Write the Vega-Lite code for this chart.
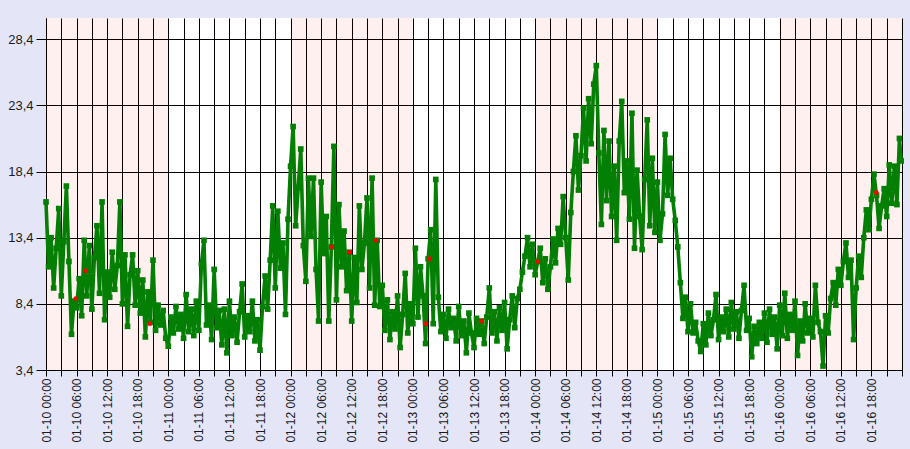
{
  "$schema": "https://vega.github.io/schema/vega-lite/v6.json",
  "width": 856,
  "height": 352,
  "autosize": {"type": "none"},
  "padding": {"left": 46, "top": 18, "right": 8, "bottom": 79},
  "background": "#E4E6F8",
  "config": {"font": "Liberation Sans", "view": {"fill": "white", "stroke": null}},
  "datasets": {
    "bands": [
      {"s": "2024-01-10T00:00", "e": "2024-01-11T00:00"},
      {"s": "2024-01-12T00:00", "e": "2024-01-13T00:00"},
      {"s": "2024-01-14T00:00", "e": "2024-01-15T00:00"},
      {"s": "2024-01-16T00:00", "e": "2024-01-17T00:00"}
    ],
    "red": [
      {"t": "2024-01-10T05:50", "v": 8.8},
      {"t": "2024-01-10T07:47", "v": 10.9},
      {"t": "2024-01-10T20:25", "v": 6.9},
      {"t": "2024-01-12T08:05", "v": 12.7},
      {"t": "2024-01-12T11:33", "v": 12.3},
      {"t": "2024-01-12T16:47", "v": 13.2},
      {"t": "2024-01-13T02:36", "v": 6.9},
      {"t": "2024-01-13T03:20", "v": 11.8},
      {"t": "2024-01-13T13:32", "v": 7.1},
      {"t": "2024-01-14T00:32", "v": 11.6},
      {"t": "2024-01-16T18:58", "v": 16.8}
    ],
    "series": [
      {"t":"2024-01-10T00:00","v":16.1},{"t":"2024-01-10T00:30","v":11.2},{"t":"2024-01-10T01:00","v":13.4},{"t":"2024-01-10T01:30","v":9.6},{"t":"2024-01-10T02:00","v":12.6},{"t":"2024-01-10T02:30","v":15.6},{"t":"2024-01-10T03:00","v":9.0},{"t":"2024-01-10T03:30","v":13.1},{"t":"2024-01-10T04:00","v":17.3},{"t":"2024-01-10T04:30","v":11.6},{"t":"2024-01-10T05:00","v":6.1},{"t":"2024-01-10T05:30","v":8.6},{"t":"2024-01-10T06:00","v":8.1},{"t":"2024-01-10T06:30","v":10.3},{"t":"2024-01-10T07:00","v":7.5},{"t":"2024-01-10T07:30","v":13.2},{"t":"2024-01-10T08:00","v":9.0},{"t":"2024-01-10T08:30","v":12.8},{"t":"2024-01-10T09:00","v":8.0},{"t":"2024-01-10T09:30","v":11.9},{"t":"2024-01-10T10:00","v":14.3},{"t":"2024-01-10T10:30","v":9.2},{"t":"2024-01-10T11:00","v":16.1},{"t":"2024-01-10T11:30","v":7.2},{"t":"2024-01-10T12:00","v":10.8},{"t":"2024-01-10T12:30","v":8.9},{"t":"2024-01-10T13:00","v":12.3},{"t":"2024-01-10T13:30","v":9.5},{"t":"2024-01-10T14:00","v":11.3},{"t":"2024-01-10T14:30","v":16.1},{"t":"2024-01-10T15:00","v":8.4},{"t":"2024-01-10T15:30","v":12.1},{"t":"2024-01-10T16:00","v":6.7},{"t":"2024-01-10T16:30","v":10.6},{"t":"2024-01-10T17:00","v":12.1},{"t":"2024-01-10T17:30","v":8.3},{"t":"2024-01-10T18:00","v":10.9},{"t":"2024-01-10T18:30","v":7.7},{"t":"2024-01-10T19:00","v":10.2},{"t":"2024-01-10T19:30","v":5.9},{"t":"2024-01-10T20:00","v":9.3},{"t":"2024-01-10T20:30","v":7.0},{"t":"2024-01-10T21:00","v":11.7},{"t":"2024-01-10T21:30","v":6.4},{"t":"2024-01-10T22:00","v":8.3},{"t":"2024-01-10T22:30","v":6.8},{"t":"2024-01-10T23:00","v":7.9},{"t":"2024-01-10T23:30","v":5.8},
      {"t":"2024-01-11T00:00","v":5.2},{"t":"2024-01-11T00:30","v":7.4},{"t":"2024-01-11T01:00","v":6.2},{"t":"2024-01-11T01:30","v":8.2},{"t":"2024-01-11T02:00","v":6.5},{"t":"2024-01-11T02:30","v":7.6},{"t":"2024-01-11T03:00","v":5.8},{"t":"2024-01-11T03:30","v":9.1},{"t":"2024-01-11T04:00","v":6.3},{"t":"2024-01-11T04:30","v":8.0},{"t":"2024-01-11T05:00","v":6.0},{"t":"2024-01-11T05:30","v":8.6},{"t":"2024-01-11T06:00","v":6.4},{"t":"2024-01-11T06:30","v":11.4},{"t":"2024-01-11T07:00","v":13.2},{"t":"2024-01-11T07:30","v":6.8},{"t":"2024-01-11T08:00","v":8.3},{"t":"2024-01-11T08:30","v":5.7},{"t":"2024-01-11T09:00","v":11.0},{"t":"2024-01-11T09:30","v":6.6},{"t":"2024-01-11T10:00","v":7.9},{"t":"2024-01-11T10:30","v":5.3},{"t":"2024-01-11T11:00","v":8.0},{"t":"2024-01-11T11:30","v":4.7},{"t":"2024-01-11T12:00","v":8.6},{"t":"2024-01-11T12:30","v":6.0},{"t":"2024-01-11T13:00","v":7.4},{"t":"2024-01-11T13:30","v":5.5},{"t":"2024-01-11T14:00","v":7.8},{"t":"2024-01-11T14:30","v":9.9},{"t":"2024-01-11T15:00","v":5.9},{"t":"2024-01-11T15:30","v":7.5},{"t":"2024-01-11T16:00","v":6.3},{"t":"2024-01-11T16:30","v":8.6},{"t":"2024-01-11T17:00","v":5.6},{"t":"2024-01-11T17:30","v":7.2},{"t":"2024-01-11T18:00","v":4.9},{"t":"2024-01-11T18:30","v":8.2},{"t":"2024-01-11T19:00","v":10.5},{"t":"2024-01-11T19:30","v":8.0},{"t":"2024-01-11T20:00","v":11.7},{"t":"2024-01-11T20:30","v":15.8},{"t":"2024-01-11T21:00","v":9.6},{"t":"2024-01-11T21:30","v":15.4},{"t":"2024-01-11T22:00","v":11.1},{"t":"2024-01-11T22:30","v":13.0},{"t":"2024-01-11T23:00","v":7.6},{"t":"2024-01-11T23:30","v":14.8},
      {"t":"2024-01-12T00:00","v":18.8},{"t":"2024-01-12T00:30","v":21.8},{"t":"2024-01-12T01:00","v":14.3},{"t":"2024-01-12T01:30","v":17.2},{"t":"2024-01-12T02:00","v":20.1},{"t":"2024-01-12T02:30","v":12.8},{"t":"2024-01-12T03:00","v":10.1},{"t":"2024-01-12T03:30","v":17.9},{"t":"2024-01-12T04:00","v":13.5},{"t":"2024-01-12T04:30","v":17.9},{"t":"2024-01-12T05:00","v":11.0},{"t":"2024-01-12T05:30","v":7.1},{"t":"2024-01-12T06:00","v":17.6},{"t":"2024-01-12T06:30","v":12.2},{"t":"2024-01-12T07:00","v":15.0},{"t":"2024-01-12T07:30","v":7.1},{"t":"2024-01-12T08:00","v":12.7},{"t":"2024-01-12T08:30","v":20.3},{"t":"2024-01-12T09:00","v":8.7},{"t":"2024-01-12T09:30","v":15.9},{"t":"2024-01-12T10:00","v":11.2},{"t":"2024-01-12T10:30","v":13.9},{"t":"2024-01-12T11:00","v":9.4},{"t":"2024-01-12T11:30","v":12.3},{"t":"2024-01-12T12:00","v":7.1},{"t":"2024-01-12T12:30","v":11.9},{"t":"2024-01-12T13:00","v":8.5},{"t":"2024-01-12T13:30","v":15.8},{"t":"2024-01-12T14:00","v":11.0},{"t":"2024-01-12T14:30","v":13.0},{"t":"2024-01-12T15:00","v":16.4},{"t":"2024-01-12T15:30","v":9.6},{"t":"2024-01-12T16:00","v":17.9},{"t":"2024-01-12T16:30","v":8.3},{"t":"2024-01-12T17:00","v":13.2},{"t":"2024-01-12T17:30","v":8.2},{"t":"2024-01-12T18:00","v":9.8},{"t":"2024-01-12T18:30","v":6.4},{"t":"2024-01-12T19:00","v":8.7},{"t":"2024-01-12T19:30","v":5.7},{"t":"2024-01-12T20:00","v":7.8},{"t":"2024-01-12T20:30","v":6.5},{"t":"2024-01-12T21:00","v":9.0},{"t":"2024-01-12T21:30","v":5.1},{"t":"2024-01-12T22:00","v":7.6},{"t":"2024-01-12T22:30","v":10.7},{"t":"2024-01-12T23:00","v":6.2},{"t":"2024-01-12T23:30","v":8.4},
      {"t":"2024-01-13T00:00","v":6.9},{"t":"2024-01-13T00:30","v":12.6},{"t":"2024-01-13T01:00","v":7.4},{"t":"2024-01-13T01:30","v":11.2},{"t":"2024-01-13T02:00","v":9.0},{"t":"2024-01-13T02:30","v":5.4},{"t":"2024-01-13T03:00","v":11.8},{"t":"2024-01-13T03:30","v":14.0},{"t":"2024-01-13T04:00","v":6.9},{"t":"2024-01-13T04:30","v":17.8},{"t":"2024-01-13T05:00","v":8.9},{"t":"2024-01-13T05:30","v":6.3},{"t":"2024-01-13T06:00","v":7.6},{"t":"2024-01-13T06:30","v":5.8},{"t":"2024-01-13T07:00","v":8.0},{"t":"2024-01-13T07:30","v":6.6},{"t":"2024-01-13T08:00","v":7.3},{"t":"2024-01-13T08:30","v":5.6},{"t":"2024-01-13T09:00","v":8.2},{"t":"2024-01-13T09:30","v":6.0},{"t":"2024-01-13T10:00","v":7.1},{"t":"2024-01-13T10:30","v":4.7},{"t":"2024-01-13T11:00","v":7.7},{"t":"2024-01-13T11:30","v":6.2},{"t":"2024-01-13T12:00","v":5.1},{"t":"2024-01-13T12:30","v":7.3},{"t":"2024-01-13T13:00","v":6.1},{"t":"2024-01-13T13:30","v":7.1},{"t":"2024-01-13T14:00","v":5.4},{"t":"2024-01-13T14:30","v":7.4},{"t":"2024-01-13T15:00","v":9.6},{"t":"2024-01-13T15:30","v":6.2},{"t":"2024-01-13T16:00","v":7.8},{"t":"2024-01-13T16:30","v":5.6},{"t":"2024-01-13T17:00","v":8.1},{"t":"2024-01-13T17:30","v":6.4},{"t":"2024-01-13T18:00","v":8.5},{"t":"2024-01-13T18:30","v":5.0},{"t":"2024-01-13T19:00","v":7.2},{"t":"2024-01-13T19:30","v":9.0},{"t":"2024-01-13T20:00","v":6.6},{"t":"2024-01-13T20:30","v":8.8},{"t":"2024-01-13T21:00","v":9.5},{"t":"2024-01-13T21:30","v":10.8},{"t":"2024-01-13T22:00","v":12.0},{"t":"2024-01-13T22:30","v":13.4},{"t":"2024-01-13T23:00","v":11.2},{"t":"2024-01-13T23:30","v":12.9},
      {"t":"2024-01-14T00:00","v":10.6},{"t":"2024-01-14T00:30","v":11.6},{"t":"2024-01-14T01:00","v":12.6},{"t":"2024-01-14T01:30","v":10.0},{"t":"2024-01-14T02:00","v":11.8},{"t":"2024-01-14T02:30","v":9.5},{"t":"2024-01-14T03:00","v":11.2},{"t":"2024-01-14T03:30","v":13.3},{"t":"2024-01-14T04:00","v":11.5},{"t":"2024-01-14T04:30","v":14.1},{"t":"2024-01-14T05:00","v":12.9},{"t":"2024-01-14T05:30","v":16.5},{"t":"2024-01-14T06:00","v":13.4},{"t":"2024-01-14T06:30","v":10.2},{"t":"2024-01-14T07:00","v":15.3},{"t":"2024-01-14T07:30","v":18.4},{"t":"2024-01-14T08:00","v":21.1},{"t":"2024-01-14T08:30","v":17.0},{"t":"2024-01-14T09:00","v":19.6},{"t":"2024-01-14T09:30","v":23.2},{"t":"2024-01-14T10:00","v":19.2},{"t":"2024-01-14T10:30","v":23.9},{"t":"2024-01-14T11:00","v":20.5},{"t":"2024-01-14T11:30","v":25.0},{"t":"2024-01-14T12:00","v":26.4},{"t":"2024-01-14T12:30","v":19.8},{"t":"2024-01-14T13:00","v":14.4},{"t":"2024-01-14T13:30","v":21.5},{"t":"2024-01-14T14:00","v":16.2},{"t":"2024-01-14T14:30","v":20.7},{"t":"2024-01-14T15:00","v":15.0},{"t":"2024-01-14T15:30","v":18.8},{"t":"2024-01-14T16:00","v":13.2},{"t":"2024-01-14T16:30","v":20.7},{"t":"2024-01-14T17:00","v":23.7},{"t":"2024-01-14T17:30","v":16.8},{"t":"2024-01-14T18:00","v":19.2},{"t":"2024-01-14T18:30","v":14.8},{"t":"2024-01-14T19:00","v":22.8},{"t":"2024-01-14T19:30","v":12.6},{"t":"2024-01-14T20:00","v":18.5},{"t":"2024-01-14T20:30","v":15.0},{"t":"2024-01-14T21:00","v":12.5},{"t":"2024-01-14T21:30","v":17.8},{"t":"2024-01-14T22:00","v":22.3},{"t":"2024-01-14T22:30","v":14.3},{"t":"2024-01-14T23:00","v":19.4},{"t":"2024-01-14T23:30","v":13.8},
      {"t":"2024-01-15T00:00","v":17.6},{"t":"2024-01-15T00:30","v":13.2},{"t":"2024-01-15T01:00","v":15.2},{"t":"2024-01-15T01:30","v":21.2},{"t":"2024-01-15T02:00","v":16.6},{"t":"2024-01-15T02:30","v":19.4},{"t":"2024-01-15T03:00","v":16.3},{"t":"2024-01-15T03:30","v":14.7},{"t":"2024-01-15T04:00","v":12.7},{"t":"2024-01-15T04:30","v":10.0},{"t":"2024-01-15T05:00","v":7.3},{"t":"2024-01-15T05:30","v":8.9},{"t":"2024-01-15T06:00","v":6.3},{"t":"2024-01-15T06:30","v":8.4},{"t":"2024-01-15T07:00","v":6.2},{"t":"2024-01-15T07:30","v":7.0},{"t":"2024-01-15T08:00","v":5.6},{"t":"2024-01-15T08:30","v":4.8},{"t":"2024-01-15T09:00","v":6.9},{"t":"2024-01-15T09:30","v":5.3},{"t":"2024-01-15T10:00","v":7.7},{"t":"2024-01-15T10:30","v":6.0},{"t":"2024-01-15T11:00","v":7.2},{"t":"2024-01-15T11:30","v":9.1},{"t":"2024-01-15T12:00","v":5.7},{"t":"2024-01-15T12:30","v":7.4},{"t":"2024-01-15T13:00","v":6.3},{"t":"2024-01-15T13:30","v":8.0},{"t":"2024-01-15T14:00","v":5.9},{"t":"2024-01-15T14:30","v":8.5},{"t":"2024-01-15T15:00","v":6.5},{"t":"2024-01-15T15:30","v":7.8},{"t":"2024-01-15T16:00","v":5.8},{"t":"2024-01-15T16:30","v":7.9},{"t":"2024-01-15T17:00","v":9.8},{"t":"2024-01-15T17:30","v":6.4},{"t":"2024-01-15T18:00","v":7.3},{"t":"2024-01-15T18:30","v":4.4},{"t":"2024-01-15T19:00","v":6.7},{"t":"2024-01-15T19:30","v":5.4},{"t":"2024-01-15T20:00","v":7.0},{"t":"2024-01-15T20:30","v":5.8},{"t":"2024-01-15T21:00","v":7.7},{"t":"2024-01-15T21:30","v":5.5},{"t":"2024-01-15T22:00","v":8.0},{"t":"2024-01-15T22:30","v":6.1},{"t":"2024-01-15T23:00","v":7.4},{"t":"2024-01-15T23:30","v":5.0},
      {"t":"2024-01-16T00:00","v":8.3},{"t":"2024-01-16T00:30","v":6.0},{"t":"2024-01-16T01:00","v":9.2},{"t":"2024-01-16T01:30","v":5.8},{"t":"2024-01-16T02:00","v":7.6},{"t":"2024-01-16T02:30","v":6.4},{"t":"2024-01-16T03:00","v":8.6},{"t":"2024-01-16T03:30","v":4.5},{"t":"2024-01-16T04:00","v":7.1},{"t":"2024-01-16T04:30","v":5.6},{"t":"2024-01-16T05:00","v":8.4},{"t":"2024-01-16T05:30","v":6.2},{"t":"2024-01-16T06:00","v":7.3},{"t":"2024-01-16T06:30","v":5.9},{"t":"2024-01-16T07:00","v":9.8},{"t":"2024-01-16T07:30","v":7.0},{"t":"2024-01-16T08:00","v":6.3},{"t":"2024-01-16T08:30","v":3.7},{"t":"2024-01-16T09:00","v":7.5},{"t":"2024-01-16T09:30","v":6.2},{"t":"2024-01-16T10:00","v":8.8},{"t":"2024-01-16T10:30","v":10.0},{"t":"2024-01-16T11:00","v":8.3},{"t":"2024-01-16T11:30","v":11.0},{"t":"2024-01-16T12:00","v":9.8},{"t":"2024-01-16T12:30","v":11.6},{"t":"2024-01-16T13:00","v":13.0},{"t":"2024-01-16T13:30","v":10.4},{"t":"2024-01-16T14:00","v":11.7},{"t":"2024-01-16T14:30","v":5.7},{"t":"2024-01-16T15:00","v":9.6},{"t":"2024-01-16T15:30","v":12.0},{"t":"2024-01-16T16:00","v":10.4},{"t":"2024-01-16T16:30","v":13.4},{"t":"2024-01-16T17:00","v":15.5},{"t":"2024-01-16T17:30","v":14.0},{"t":"2024-01-16T18:00","v":16.3},{"t":"2024-01-16T18:30","v":18.2},{"t":"2024-01-16T19:00","v":16.6},{"t":"2024-01-16T19:30","v":14.1},{"t":"2024-01-16T20:00","v":15.8},{"t":"2024-01-16T20:30","v":17.1},{"t":"2024-01-16T21:00","v":15.0},{"t":"2024-01-16T21:30","v":18.9},{"t":"2024-01-16T22:00","v":16.0},{"t":"2024-01-16T22:30","v":18.8},{"t":"2024-01-16T23:00","v":15.9},{"t":"2024-01-16T23:30","v":20.9},{"t":"2024-01-16T23:50","v":19.2}
    ]
  },
  "layer": [
    {
      "data": {"name": "bands"},
      "mark": {"type": "rect", "color": "#FF0000", "opacity": 0.06},
      "encoding": {
        "x": {"field": "s", "type": "temporal", "title": null},
        "x2": {"field": "e"}
      }
    },
    {
      "data": {"name": "series"},
      "mark": {
        "type": "line",
        "color": "#037F03",
        "strokeWidth": 3.6,
        "point": {"shape": "square", "filled": true, "size": 32, "color": "#037F03"}
      },
      "encoding": {
        "x": {
          "field": "t",
          "type": "temporal",
          "title": null,
          "scale": {"nice": false},
          "axis": {
            "tickCount": 56,
            "labelExpr": "(hours(datum.value) % 6 == 0 && date(datum.value) != 17) ? timeFormat(datum.value, '%m-%d %H:%M') : ''",
            "labelAngle": 270,
            "labelOverlap": false,
            "labelFlush": false,
            "grid": true,
            "gridColor": "#000000",
            "gridOpacity": 1,
            "gridWidth": 1,
            "tickColor": "#000000",
            "tickSize": 6,
            "labelPadding": 2,
            "domainColor": "#000000",
            "labelFontSize": 12,
            "labelColor": "#1a1a1a"
          }
        },
        "y": {
          "field": "v",
          "type": "quantitative",
          "title": null,
          "scale": {"domain": [3.4, 30], "nice": false, "zero": false},
          "axis": {
            "values": [3.4, 8.4, 13.4, 18.4, 23.4, 28.4],
            "labelExpr": "floor(datum.value) + ',4'",
            "grid": true,
            "gridColor": "#000000",
            "gridOpacity": 1,
            "gridWidth": 1,
            "tickColor": "#000000",
            "tickSize": 10,
            "labelPadding": 3,
            "domainColor": "#000000",
            "labelFontSize": 13,
            "labelColor": "#1a1a1a"
          }
        }
      }
    },
    {
      "data": {"name": "red"},
      "mark": {"type": "point", "shape": "circle", "filled": true, "size": 22, "color": "#FF0000", "opacity": 1},
      "encoding": {
        "x": {"field": "t", "type": "temporal", "title": null},
        "y": {"field": "v", "type": "quantitative", "title": null}
      }
    }
  ]
}
